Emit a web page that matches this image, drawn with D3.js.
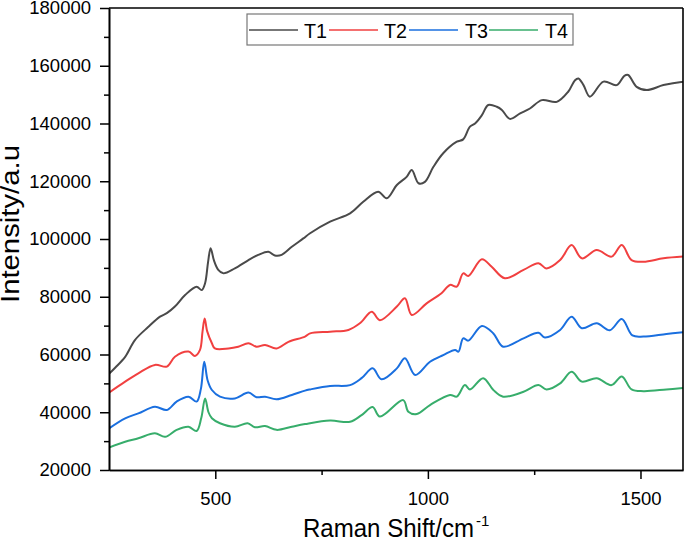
<!DOCTYPE html>
<html><head><meta charset="utf-8">
<script src="https://cdn.jsdelivr.net/npm/d3@7"></script>
<style>
body{margin:0;background:#fff;}
svg{display:block;font-family:"Liberation Sans",Arial,sans-serif;}
</style></head>
<body><svg id="c" width="685" height="542"></svg>
<script>
const seriesNames = ["T1","T2","T3","T4"];
const seriesColors = ["#4a4a4a","#f14040","#1a6fdf","#37ad6b"];
const xTicks = [500,1000,1500];
const xMinor = [750,1250];
const yTicks = [20000,40000,60000,80000,100000,120000,140000,160000,180000];
const yMinor = [30000,50000,70000,90000,110000,130000,150000,170000];

const t1X = [250,265,288,311,342,370,386,405,429,456,468,476,483,489,497,507,519,546,578,601,625,640,656,680,707,723,770,817,848,883,903,927,950,962,978,993,1013,1036,1068,1083,1099,1111,1127,1142,1162,1174,1193,1217,1240,1268,1303,1330,1346,1354,1366,1381,1413,1444,1462,1471,1491,1515,1554,1600];
const t1Y = [53300,55500,59200,65000,69500,73100,74300,76600,80600,83500,82300,84700,92000,96800,92500,89300,88100,89800,92700,94500,95600,94300,94500,97300,100200,102000,106000,108900,112900,116400,114100,118700,121500,123900,119300,119800,125000,129700,133700,134500,138900,140000,142900,146400,145800,144700,141600,143500,145200,148100,147500,151000,155000,155600,153300,149300,154500,153300,156500,156800,152700,151600,153300,154500];

const t2X = [250,288,319,358,386,405,437,452,464,470,475,481,492,499,531,554,578,597,617,644,672,711,723,770,813,840,868,887,927,946,962,997,1032,1052,1068,1083,1095,1127,1150,1181,1225,1260,1279,1311,1338,1362,1397,1432,1456,1479,1507,1554,1600];
const t2Y = [46800,50600,53500,56400,55800,59200,61000,59500,61600,68000,72500,68000,63900,62100,62100,62700,63900,62700,63300,62100,64400,66200,67300,67900,68500,70800,74800,71900,76600,79500,73700,77700,81200,84100,83500,88100,87200,93000,90400,86400,89300,91600,89800,92700,97900,93300,96200,93900,97900,92700,92100,93300,93900];

const t3X = [250,288,319,358,386,409,437,456,466,474,482,492,511,546,578,597,617,644,680,711,723,770,817,844,870,891,927,946,970,1005,1036,1064,1072,1083,1095,1127,1154,1177,1225,1260,1275,1311,1338,1362,1397,1428,1456,1481,1507,1561,1600];
const t3Y = [34400,37900,39600,41900,40800,43700,45400,43700,48000,57500,51000,47700,45400,44800,46800,45200,45400,44500,46000,47500,47900,49100,49400,51800,55200,51400,55200,58700,52900,57500,59800,61600,61000,65600,64800,69900,67300,62700,65600,67500,65900,68500,73100,69100,70800,68400,72300,66600,66200,67100,67700];

const t4X = [250,288,319,358,382,409,437,456,467,476,484,492,511,546,576,593,617,644,680,711,770,817,844,870,887,942,954,974,1005,1052,1068,1087,1099,1130,1154,1177,1225,1260,1279,1311,1338,1362,1397,1432,1456,1479,1507,1561,1600];
const t4Y = [27800,29800,31000,32700,31500,33900,35000,33500,38000,44800,40000,37900,36200,35000,36200,34800,35200,33900,35000,35900,37100,36700,39000,41800,38500,44200,40200,39400,42500,46000,45400,49400,47900,51800,47700,45400,47100,49400,47900,50000,54000,50600,51800,49400,52400,47900,47300,47900,48400];

const xs = [t1X,t2X,t3X,t4X], ys = [t1Y,t2Y,t3Y,t4Y];

const L = 109, R = 683, T = 8, B = 470;
const svg = d3.select("#c");
const x = d3.scaleLinear().domain([250,1600]).range([L,R]);
const y = d3.scaleLinear().domain([20000,180000]).range([B,T]);

svg.append("defs").append("clipPath").attr("id","clip")
  .append("rect").attr("x",L).attr("y",T).attr("width",R-L).attr("height",B-T);

const line = d3.line().x(d=>x(d[0])).y(d=>y(d[1])).curve(d3.curveCatmullRom.alpha(0.5));
const g = svg.append("g").attr("clip-path","url(#clip)");
for (let i=0;i<4;i++){
  const pts = xs[i].map((v,j)=>[v,ys[i][j]]);
  g.append("path").attr("d",line(pts)).attr("fill","none")
   .attr("stroke",seriesColors[i]).attr("stroke-width",2).attr("stroke-linejoin","round");
}

// axes
const fs = "18.5px";
svg.append("g").attr("transform",`translate(0,${B})`)
  .call(d3.axisBottom(x).tickValues(xTicks).tickSize(9).tickPadding(13).tickSizeOuter(0).tickFormat(d3.format("d")));
svg.append("g").attr("transform",`translate(0,${B})`)
  .call(d3.axisBottom(x).tickValues(xMinor).tickSize(5).tickSizeOuter(0).tickFormat(""));
svg.append("g").attr("transform",`translate(${L},0)`)
  .call(d3.axisLeft(y).tickValues(yTicks).tickSize(9).tickPadding(9).tickSizeOuter(0).tickFormat(d3.format("d")));
svg.append("g").attr("transform",`translate(${L},0)`)
  .call(d3.axisLeft(y).tickValues(yMinor).tickSize(5).tickSizeOuter(0).tickFormat(""));
svg.selectAll(".domain").attr("stroke","#000").attr("stroke-width",1.6);
svg.selectAll(".tick line").attr("stroke","#000").attr("stroke-width",1.5);
svg.selectAll(".tick text").attr("font-size",fs).attr("font-family","Liberation Sans, Arial, sans-serif").attr("fill","#000");

// top & right frame
svg.append("line").attr("x1",L).attr("x2",R).attr("y1",T).attr("y2",T).attr("stroke","#000").attr("stroke-width",1.6);
svg.append("line").attr("x1",R).attr("x2",R).attr("y1",T).attr("y2",B).attr("stroke","#000").attr("stroke-width",1.6);

// titles
svg.append("text").attr("x",303).attr("y",537).attr("font-size","26px")
  .attr("textLength",171).attr("lengthAdjust","spacingAndGlyphs").attr("fill","#000").text("Raman Shift/cm");
svg.append("text").attr("x",476).attr("y",526).attr("font-size","15px").attr("fill","#000").text("-1");

svg.append("text").attr("transform","translate(19,303) rotate(-90)").attr("font-size","26px")
  .attr("textLength",158).attr("lengthAdjust","spacingAndGlyphs").attr("fill","#000").text("Intensity/a.u");

// legend
const lg = svg.append("g");
lg.append("rect").attr("x",247).attr("y",14).attr("width",326).attr("height",31)
  .attr("fill","#fff").attr("stroke","#777").attr("stroke-width",1.2);
const lineX = [249,329,409,489];
const textX = [304,384,465,545];
seriesNames.forEach((n,i)=>{
  lg.append("line").attr("x1",lineX[i]).attr("x2",lineX[i]+49).attr("y1",30).attr("y2",30)
    .attr("stroke",seriesColors[i]).attr("stroke-width",1.6);
  lg.append("text").attr("x",textX[i]).attr("y",37.5).attr("font-size","21px")
    .attr("textLength",23).attr("lengthAdjust","spacingAndGlyphs").attr("fill","#000").text(n);
});
</script></body></html>
